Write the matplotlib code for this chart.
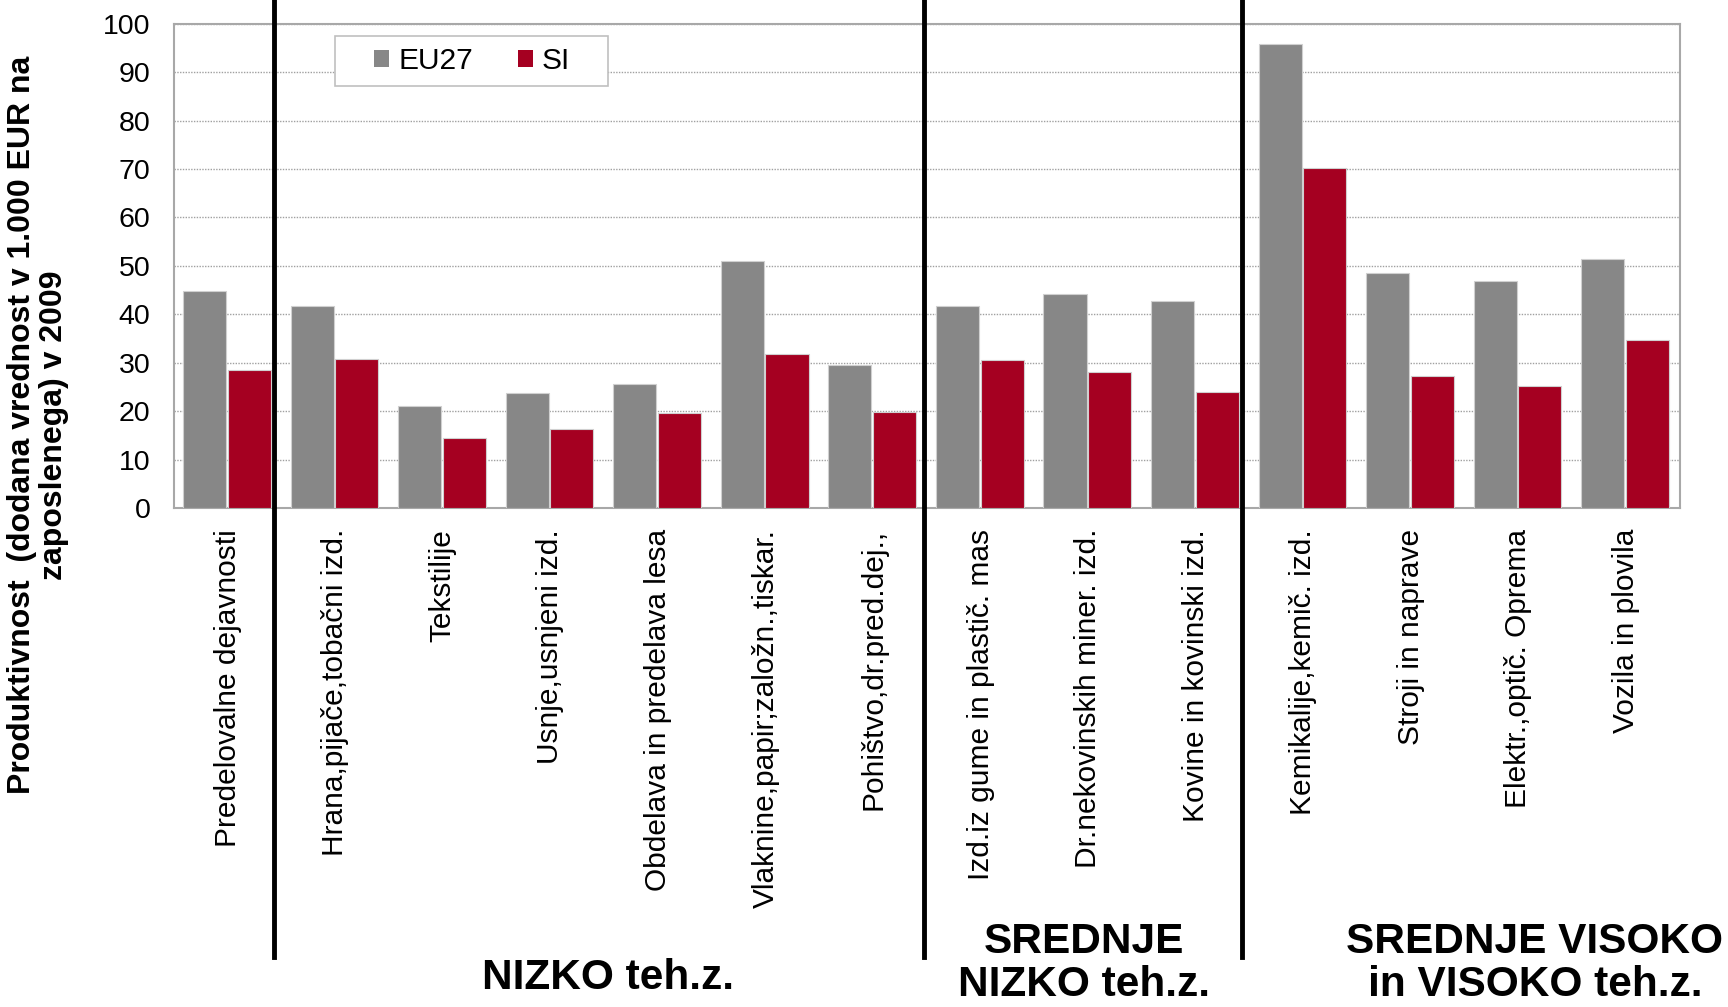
import matplotlib
matplotlib.use("Agg")
import matplotlib.pyplot as plt
import matplotlib.transforms as mtransforms
from matplotlib.patches import Patch, Rectangle
import numpy as np

plt.rcParams["font.family"] = ["Liberation Sans", "DejaVu Sans"]

# podatki
kategorije = [
    "Predelovalne dejavnosti",
    "Hrana,pijače,tobačni izd.",
    "Tekstilije",
    "Usnje,usnjeni izd.",
    "Obdelava in predelava lesa",
    "Vlaknine,papir;založn.,tiskar.",
    "Pohištvo,dr.pred.dej.,",
    "Izd.iz gume in plastič. mas",
    "Dr.nekovinskih miner. izd.",
    "Kovine in kovinski izd.",
    "Kemikalije,kemič. izd.",
    "Stroji in naprave",
    "Elektr.,optič. Oprema",
    "Vozila in plovila",
]
eu27 = [44.9, 41.7, 21.0, 23.7, 25.7, 51.0, 29.6, 41.7, 44.2, 42.8, 95.8, 48.6, 46.8, 51.4]
si = [28.5, 30.8, 14.4, 16.4, 19.6, 31.7, 19.8, 30.5, 28.0, 23.9, 70.3, 27.2, 25.2, 34.6]

skupine = [["NIZKO teh.z."], ["SREDNJE", "NIZKO teh.z."], ["SREDNJE VISOKO", "in VISOKO teh.z."]]
meje = [0.43, 6.47, 9.43]

SIVA = "#878787"
RDECA = "#A50021"

fig = plt.figure(figsize=(17.28, 10.07), dpi=100)
ax = fig.add_axes([0.1007, 0.4955, 0.8713, 0.481])

x = np.arange(len(kategorije))
ax.bar(x - 0.215, eu27, width=0.4, color=SIVA, edgecolor="#d0d0d0", linewidth=0.8, zorder=3)
ax.bar(x + 0.2, si, width=0.4, color=RDECA, edgecolor="#d0d0d0", linewidth=0.8, zorder=3)

ax.set_xlim(-0.5, len(kategorije) - 0.5)
ax.set_ylim(0, 100)
ax.set_yticks(range(0, 101, 10))
ax.tick_params(axis="y", length=0, pad=17, labelsize=20.5)
ax.set_xticks(x)
ax.set_xticklabels(kategorije, rotation=90, ha="center", va="top", fontsize=21.5)
ax.tick_params(axis="x", length=0, pad=15)

ax.yaxis.grid(True, color="#a0a0a0", linestyle=(0, (1, 1)), linewidth=1.0, zorder=0)
ax.set_axisbelow(True)
for s in ax.spines.values():
    s.set_color("#a8a8a8")
    s.set_linewidth(1.5)

# legenda (okvir posebej, da je sirsi)
ax.add_patch(Rectangle((0.107, 0.872), 0.181, 0.103, transform=ax.transAxes,
                       facecolor="white", edgecolor="#c0c0c0", linewidth=1.2, zorder=6))
handles = [Patch(facecolor=SIVA, label="EU27"), Patch(facecolor=RDECA, label="SI")]
leg = ax.legend(handles=handles, loc="center left", bbox_to_anchor=(0.133, 0.9235), ncol=2,
                fontsize=21.5, frameon=False, handlelength=0.5, handleheight=0.5,
                handletextpad=0.3, columnspacing=1.5, borderpad=0, borderaxespad=0)
leg.set_zorder(7)

# navpicne crte med skupinami
trans = mtransforms.blended_transform_factory(ax.transData, fig.transFigure)
for m in meje:
    ax.plot([m, m], [1.0, 0.05], transform=trans, color="black", linewidth=3.5,
            clip_on=False, zorder=5)

# imena skupin
poz_skupin = [608 / 1728, 1084 / 1728, 1535 / 1728]
for vrstice, px in zip(skupine, poz_skupin):
    if len(vrstice) == 1:
        baze = [1 - 989 / 1007]
    else:
        baze = [1 - 953 / 1007, 1 - 996 / 1007]
    for txt, py in zip(vrstice, baze):
        fig.text(px, py, txt, ha="center", va="baseline", fontsize=30.5, fontweight="bold")

fig.text(38 / 1728, 1 - 425 / 1007,
         "Produktivnost  (dodana vrednost v 1.000 EUR na\nzaposlenega) v 2009",
         rotation=90, ha="center", va="center", multialignment="center",
         fontsize=23, fontweight="bold", linespacing=1.05)

fig.savefig("out.png", dpi=100)
